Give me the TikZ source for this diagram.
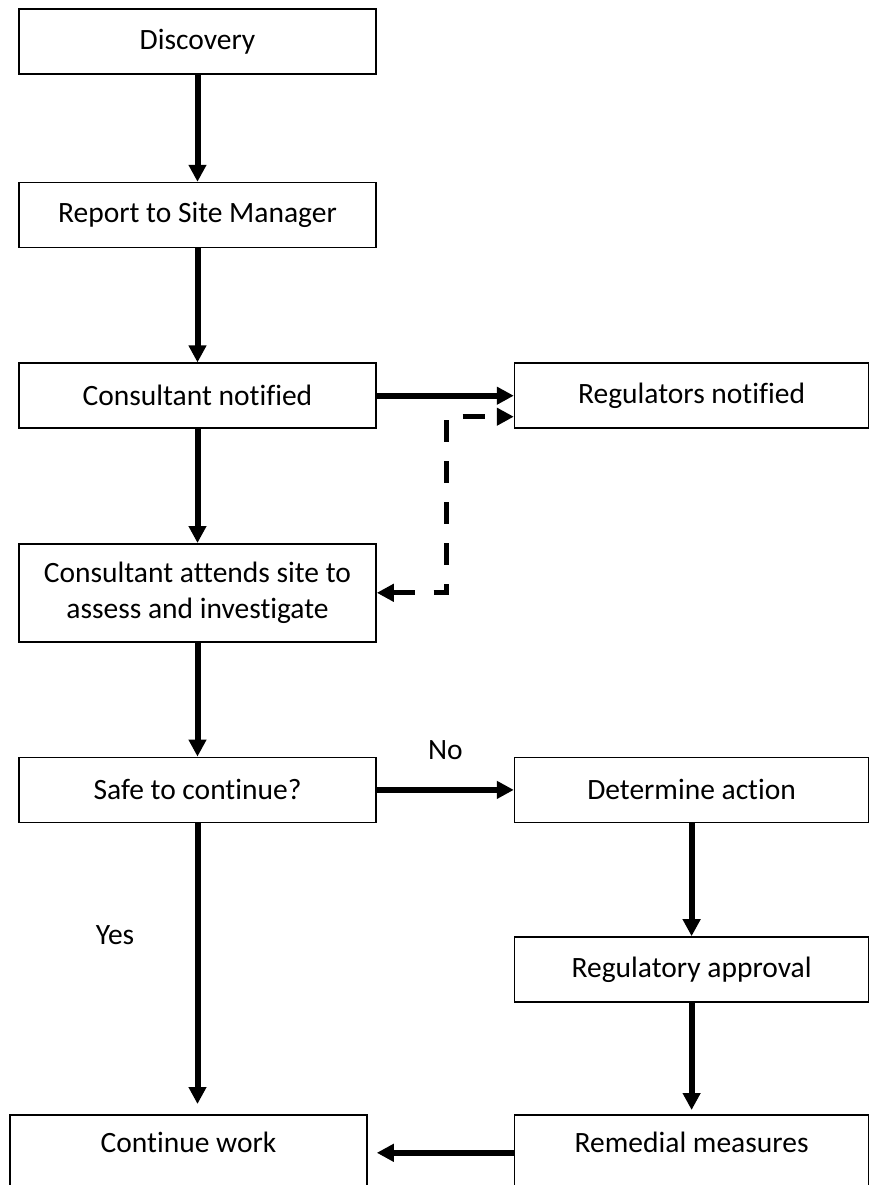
\documentclass[tikz,border=0pt]{standalone}
\usepackage{fontspec}
\setmainfont[Ligatures=NoCommon]{Carlito}
\usepackage{tikz}
\usetikzlibrary{arrows.meta,positioning,calc}
\tikzset{>={Triangle[length=17pt,width=17pt]},
         stepbox/.style={draw, line width=1.6pt, minimum width=357pt,
           minimum height=65pt, inner sep=0pt, align=center,
           font=\fontsize{29.5}{36.5}\selectfont},
         widebox/.style={minimum width=354pt},
         endbox/.style={stepbox, minimum height=0pt, inner ysep=0pt,
           text height=38pt, text depth=70pt},
         lbl/.style={font=\fontsize{29.5}{36.5}\selectfont},
         flow/.style={->, line width=6pt},
         back/.style={<->, line width=5pt, dash pattern=on 22pt off 19pt}}

\begin{document}
\begin{tikzpicture}[x=1pt,y=-1pt]
  \useasboundingbox (0,0) rectangle (868,1185);
  % left column
  \node[stepbox] (disc) at (197.5,41.5) {Discovery};
  \node[stepbox, below=107pt of disc] (rep) {Report to Site Manager};
  \node[stepbox, below=114pt of rep] (cnot) {Consultant notified};
  \node[stepbox, minimum height=98pt, below=114pt of cnot] (att)
       {Consultant attends site to\\assess and investigate};
  \node[stepbox, below=114pt of att] (safe) {Safe to continue?};
  \node[endbox, anchor=north] (cont) at (188.5,1114) {Continue work};
  % right column
  \node[stepbox, widebox, right=137pt of cnot] (reg) {Regulators notified};
  \node[stepbox, widebox, right=137pt of safe] (det) {Determine action};
  \node[stepbox, widebox, below=113pt of det] (appr) {Regulatory approval};
  \node[endbox, widebox, anchor=north] (rem) at (det |- 0,1114) {Remedial measures};
  \node[lbl] (yes) at (115,935) {Yes};
  \path[flow] (disc) edge (rep) (rep) edge (cnot) (cnot) edge (att)
        (att) edge (safe) (cnot) edge (reg)
        (safe) edge node[lbl, yshift=40pt] (no) {No} (det)
        (det) edge (appr) (appr) edge[shorten >=4pt] (rem)
        (safe) edge[shorten >=10pt] (safe |- cont.north)
        (rem.base west) edge[shorten >=9pt] (cont.base east);
  \draw[back] (att.east) -- ++(70,0) |- ([yshift=-21pt]reg.west);
\end{tikzpicture}
\end{document}
